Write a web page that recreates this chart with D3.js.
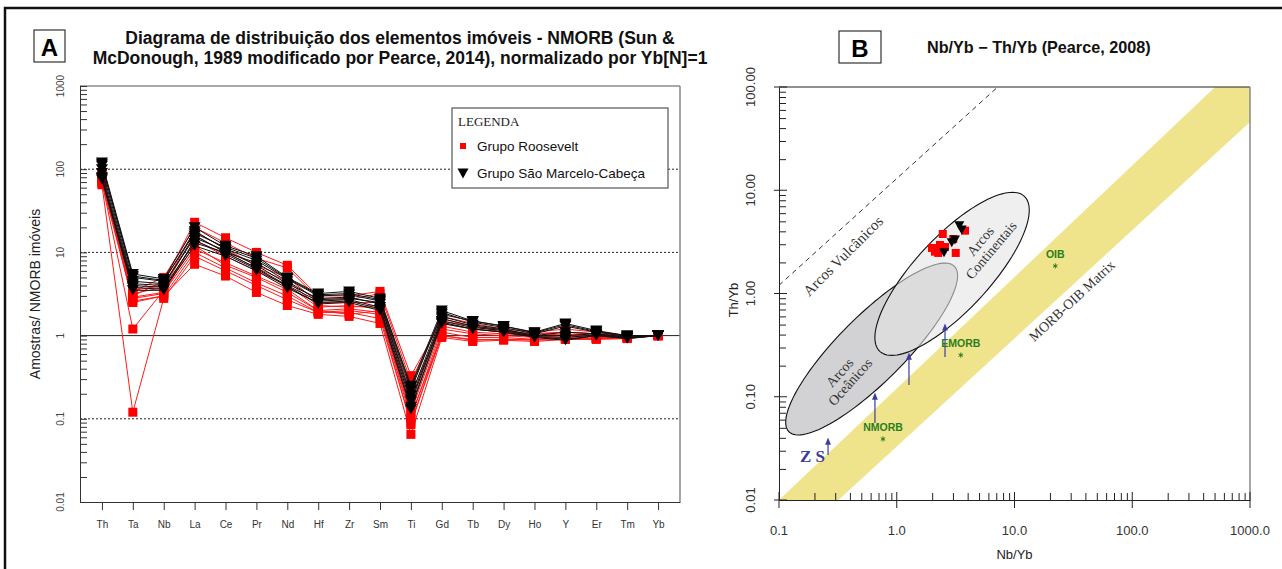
<!DOCTYPE html>
<html><head><meta charset="utf-8">
<script src="https://cdn.jsdelivr.net/npm/d3@7"></script>
<style>body{margin:0;background:#fff}svg{display:block}</style>
</head><body>
<svg id="c" width="1282" height="569"></svg>
<script>
// ---------- DATA: Panel A (spider diagram) ----------
const elements = ["Th","Ta","Nb","La","Ce","Pr","Nd","Hf","Zr","Sm","Ti","Gd","Tb","Dy","Ho","Y","Er","Tm","Yb"];
const roosevelt = [
  [90,3.0,4.5,23,15,10,7,3.0,3.0,3.4,0.33,1.5,1.3,1.15,1.05,1.1,1.05,1.0,1.0],
  [80,2.5,3.0,7.2,5.2,3.3,2.3,1.8,1.7,1.4,0.065,0.95,0.85,0.88,0.85,0.9,0.9,0.92,1.0],
  [65,0.12,2.8,9,6,4,2.7,1.9,1.9,1.6,0.09,1.0,0.9,0.9,0.9,0.95,0.92,0.95,1.0],
  [70,1.2,3.5,12,7,5,3.3,2.0,2.1,1.9,0.1,1.2,1.05,1.0,0.95,1.0,0.95,0.95,1.0],
  [75,2.8,3.2,14,9,6,4,2.2,2.3,2.1,0.12,1.3,1.1,1.05,1.0,1.0,1.0,0.97,1.0],
  [85,3.5,4.0,18,11,7,5,2.5,2.5,2.5,0.2,1.4,1.2,1.1,1.0,1.05,1.0,0.98,1.0],
  [68,2.6,3.0,10,6.5,4.3,3.0,1.9,2.0,1.8,0.085,1.1,0.95,0.95,0.9,0.92,0.93,0.95,1.0],
  [78,3.2,3.8,16,10,6.5,4.5,2.3,2.2,2.3,0.15,1.6,1.3,1.1,1.05,1.1,1.05,1.0,1.0],
  [72,2.9,3.3,11,7.5,5.2,3.6,2.0,1.8,2.0,0.11,1.0,0.88,0.9,0.88,0.9,0.92,0.93,1.0],
  [88,3.4,5.0,20,13,8.5,6.5,2.8,2.7,3.2,0.28,1.7,1.4,1.2,1.1,1.2,1.1,1.0,1.0]
];
const saoMarcelo = [
  [120,5.5,4.8,20,12,9,5,3.2,3.4,2.8,0.25,2.0,1.5,1.3,1.1,1.4,1.15,1.0,1.0],
  [110,5.0,4.5,18,11,8,4.8,3.0,3.1,2.6,0.22,1.9,1.45,1.25,1.05,1.3,1.1,0.98,1.0],
  [100,4.5,4.2,15,10.5,7,4.2,2.8,2.9,2.4,0.19,1.7,1.35,1.2,1.0,1.0,1.05,0.95,1.0],
  [80,4.0,3.8,13,10,6.5,4.0,2.6,2.7,2.2,0.16,1.5,1.25,1.15,0.98,0.9,1.0,0.93,1.0],
  [78,3.8,3.6,12,9,6,3.7,2.5,2.6,2.1,0.14,1.4,1.2,1.1,0.95,0.88,1.0,0.92,1.0],
  [75,3.5,3.5,14,9.5,6.3,3.9,2.4,2.5,2.0,0.13,1.45,1.2,1.1,0.97,0.95,1.02,0.94,1.0],
  [115,5.2,4.6,17,11.5,8.5,4.9,3.1,3.2,2.7,0.24,1.8,1.5,1.3,1.08,1.35,1.12,1.0,1.0],
  [90,4.2,4.0,16,10,7.5,4.5,2.7,2.8,2.5,0.17,1.6,1.3,1.18,1.0,1.1,1.05,0.96,1.0]
];
const yTicksA = [1000,100,10,1,0.1,0.01];
const yTickLabelsA = ["1000","100","10","1","0.1","0.01"];
const gridA = [100,10,1,0.1];
const legendTitle = "LEGENDA";
const legendLabels = ["Grupo Roosevelt","Grupo São Marcelo-Cabeça"];
const titleA = ["Diagrama de distribuição dos elementos imóveis - NMORB (Sun &",
                "McDonough, 1989 modificado por Pearce, 2014), normalizado por Yb[N]=1"];
const yLabelA = "Amostras/ NMORB imóveis";

// ---------- DATA: Panel B (Nb/Yb - Th/Yb) ----------
const bRooseveltNb = [2.46,3.02,2.33,2.11,2.25,3.17,3.80,1.99,2.57];
const bRooseveltTh = [3.77,3.37,2.95,2.54,2.47,2.47,4.06,2.76,2.82];
const bSaoNb = [3.40,3.56,2.93,3.12,2.52];
const bSaoTh = [4.54,4.12,3.10,3.30,2.48];
const refNames = ["NMORB","EMORB","OIB"];
const refNb = [0.764,3.5,22.2];
const refTh = [0.039,0.253,1.85];
const xTicksB = [0.1,1,10,100,1000];
const xTickLabelsB = ["0.1","1.0","10.0","100.0","1000.0"];
const yTicksB = [0.01,0.1,1,10,100];
const yTickLabelsB = ["0.01","0.10","1.00","10.00","100.00"];
const arrowNb = [0.261,0.653,1.27,2.57];
const arrowFromTh = [0.0273,0.0557,0.130,0.243];
const arrowToTh = [0.0407,0.111,0.271,0.518];
const bandUpperNb = [0.1,1000], bandUpperTh = [0.01,209];
const bandLowerNb = [0.32,1000], bandLowerTh = [0.01,45.7];
const volcanicNb = [0.1,7.2], volcanicTh = [1.2,100];
const ellipseNames = ["Arcos Oceânicos","Arcos Continentais"];
const ellipseNb = [0.612,2.95];
const ellipseTh = [0.29,1.55];
const ellipseLabelLines = [["Arcos","Oceânicos"],["Arcos","Continentais"]];
const ellipseLabelNb = [0.362,5.69];
const ellipseLabelTh = [0.155,2.92];
const annoTexts = ["Arcos Vulcânicos","MORB-OIB Matrix"];
const annoNb = [0.35,30.8];
const annoTh = [2.31,0.846];
const titleB = "Nb/Yb − Th/Yb (Pearce, 2008)";
const xLabelB = "Nb/Yb", yLabelB = "Th/Yb";

// ---------- DRAW ----------
const svg = d3.select("#c");
const SANS = "'Liberation Sans', Arial, sans-serif";
const SERIF = "'Liberation Serif', 'Times New Roman', serif";
svg.append("rect").attr("width",1282).attr("height",569).attr("fill","#fff");
svg.append("rect").attr("x",5).attr("y",8).attr("width",1290).attr("height",580)
  .attr("fill","none").attr("stroke","#111").attr("stroke-width",2.5);

// ===== Panel A =====
const A = {l:80, r:680, t:86, b:502};
const xA = d3.scalePoint().domain(elements).range([A.l,A.r]).padding(0.71);
const yA = d3.scaleLog().domain([0.01,1000]).range([A.b,A.t]);

svg.append("rect").attr("x",34).attr("y",30).attr("width",31).attr("height",32)
  .attr("fill","#fff").attr("stroke","#333").attr("stroke-width",1.2);
svg.append("text").attr("x",49.5).attr("y",47).attr("text-anchor","middle").attr("dominant-baseline","central")
  .attr("font-family",SANS).attr("font-weight","bold").attr("font-size",24).text("A");
svg.selectAll("text.tA").data(titleA).join("text").attr("class","tA")
  .attr("x",400).attr("y",(d,i)=>44+i*20).attr("text-anchor","middle")
  .attr("font-family",SANS).attr("font-weight","bold").attr("font-size",17.5).attr("fill","#111").text(d=>d);

// grid
svg.selectAll("line.gA").data(gridA).join("line").attr("class","gA")
  .attr("x1",A.l).attr("x2",A.r).attr("y1",d=>yA(d)).attr("y2",d=>yA(d))
  .attr("stroke","#222").attr("stroke-width",1)
  .attr("stroke-dasharray",d=>d===1?null:"2,2");

svg.append("line").attr("x1",A.l).attr("x2",A.r).attr("y1",A.t).attr("y2",A.t).attr("stroke","#555").attr("stroke-width",1.2);
svg.append("line").attr("x1",A.r).attr("x2",A.r).attr("y1",A.t).attr("y2",A.b).attr("stroke","#888").attr("stroke-width",1.5);

const axA = svg.append("g").attr("transform",`translate(${A.l},0)`)
  .call(d3.axisLeft(yA).tickValues(yA.ticks()).tickSize(-7).tickSizeOuter(0).tickFormat(""));
axA.selectAll("path,line").attr("stroke","#333");
svg.selectAll("text.ylA").data(yTicksA).join("text").attr("class","ylA")
  .attr("transform",(d)=>`translate(${A.l-20},${yA(d)}) rotate(-90)`)
  .attr("text-anchor","middle").attr("dominant-baseline","central")
  .attr("font-family",SANS).attr("font-size",10).attr("fill","#444")
  .text((d,i)=>yTickLabelsA[i]);
const axAx = svg.append("g").attr("transform",`translate(0,${A.b})`)
  .call(d3.axisBottom(xA).tickSize(8).tickSizeOuter(0).tickPadding(11));
axAx.selectAll("path,line").attr("stroke","#333");
axAx.selectAll("text").attr("font-family",SANS).attr("font-size",10).attr("fill","#333");
svg.append("text").attr("transform",`translate(35,${(A.t+A.b)/2}) rotate(-90)`)
  .attr("text-anchor","middle").attr("dominant-baseline","central")
  .attr("font-family",SANS).attr("font-size",14).attr("fill","#222").text(yLabelA);

const lineA = d3.line().x((d,i)=>xA(elements[i])).y(d=>yA(d));
const triPath = (w,h)=>`M${-w/2},${-h/2}L${w/2},${-h/2}L0,${h/2}Z`;
const gR = svg.append("g");
gR.selectAll("path.lr").data(roosevelt).join("path").attr("class","lr")
  .attr("d",lineA).attr("fill","none").attr("stroke","#ff1a1a").attr("stroke-width",1);
gR.selectAll("rect.mr").data(roosevelt.flatMap(s=>s.map((v,i)=>({v,i})))).join("rect").attr("class","mr")
  .attr("x",d=>xA(elements[d.i])-4.5).attr("y",d=>yA(d.v)-4.5).attr("width",9).attr("height",9).attr("fill","#ff0000");
const gB = svg.append("g");
gB.selectAll("path.lb").data(saoMarcelo).join("path").attr("class","lb")
  .attr("d",lineA).attr("fill","none").attr("stroke","#111").attr("stroke-width",1);
gB.selectAll("path.mb").data(saoMarcelo.flatMap(s=>s.map((v,i)=>({v,i})))).join("path").attr("class","mb")
  .attr("transform",d=>`translate(${xA(elements[d.i])},${yA(d.v)})`).attr("d",triPath(12,10)).attr("fill","#000");

// legend
svg.append("rect").attr("x",452).attr("y",108).attr("width",216).attr("height",80)
  .attr("fill","#fff").attr("stroke","#555").attr("stroke-width",1.2);
svg.append("text").attr("x",458).attr("y",126).attr("font-family",SERIF).attr("font-size",13).attr("fill","#222").text(legendTitle);
svg.append("rect").attr("x",460).attr("y",143).attr("width",6).attr("height",6).attr("fill","#ff0000");
svg.append("path").attr("transform","translate(463,173.5)").attr("d",triPath(11,10)).attr("fill","#000");
svg.selectAll("text.lg").data(legendLabels).join("text").attr("class","lg")
  .attr("x",477).attr("y",(d,i)=>146+i*27).attr("dominant-baseline","central")
  .attr("font-family",SANS).attr("font-size",13.5).attr("fill","#111").text(d=>d);

// ===== Panel B =====
const B = {l:779, r:1250, t:87, b:500};
const xB = d3.scaleLog().domain([0.1,1000]).range([B.l,B.r]);
const yB = d3.scaleLog().domain([0.01,100]).range([B.b,B.t]);

svg.append("rect").attr("x",839).attr("y",31).attr("width",42).attr("height",32)
  .attr("fill","#fff").attr("stroke","#333").attr("stroke-width",1.2);
svg.append("text").attr("x",860).attr("y",48).attr("text-anchor","middle").attr("dominant-baseline","central")
  .attr("font-family",SANS).attr("font-weight","bold").attr("font-size",24).text("B");
svg.append("text").attr("x",927).attr("y",53).attr("font-family",SANS).attr("font-weight","bold")
  .attr("font-size",16.2).attr("fill","#111").text(titleB);

svg.append("defs").call(df=>{
  df.append("clipPath").attr("id","clipB").append("rect").attr("x",B.l).attr("y",B.t).attr("width",B.r-B.l).attr("height",B.b-B.t);
  df.append("marker").attr("id","arr").attr("viewBox","0 0 10 10").attr("refX",5).attr("refY",5)
    .attr("markerWidth",6).attr("markerHeight",7).attr("orient","auto")
    .append("path").attr("d","M0,1L10,5L0,9Z").attr("fill","#3c3c9c");
});
const gP = svg.append("g").attr("clip-path","url(#clipB)");
const bandPts = [[bandUpperNb[0],bandUpperTh[0]],[bandUpperNb[1],bandUpperTh[1]],[bandLowerNb[1],bandLowerTh[1]],[bandLowerNb[0],bandLowerTh[0]]];
gP.append("path").attr("d","M"+bandPts.map(p=>[xB(p[0]),yB(p[1])].join(",")).join("L")+"Z")
  .attr("fill","#efe48c");
gP.append("line").attr("x1",xB(volcanicNb[0])).attr("y1",yB(volcanicTh[0]))
  .attr("x2",xB(volcanicNb[1])).attr("y2",yB(volcanicTh[1]))
  .attr("stroke","#333").attr("stroke-width",1).attr("stroke-dasharray","5,4");

const ellSize = [{rx:117,ry:33,ang:-45},{rx:106,ry:37,ang:-47}];
const ellStyle = [{fill:"#d2d2d4",op:1},{fill:"#e3e3e3",op:0.58}];
function ellPath(cx,cy,s){
  const a=s.ang*Math.PI/180, pts=[];
  for(let k=0;k<=120;k++){const t=k/120*2*Math.PI;
    pts.push([cx+s.rx*Math.cos(t)*Math.cos(a)-s.ry*Math.sin(t)*Math.sin(a),
              cy+s.rx*Math.cos(t)*Math.sin(a)+s.ry*Math.sin(t)*Math.cos(a)]);}
  return d3.line()(pts)+"Z";
}
ellipseNames.forEach((n,i)=>{
  gP.append("path").attr("d",ellPath(xB(ellipseNb[i]),yB(ellipseTh[i]),ellSize[i]))
    .attr("fill",ellStyle[i].fill).attr("fill-opacity",ellStyle[i].op)
    .attr("stroke","#111").attr("stroke-width",1.1);
});
const ellRot = [-48,-50];
ellipseLabelLines.forEach((lines,i)=>{
  const t = gP.append("text").attr("transform",`translate(${xB(ellipseLabelNb[i])},${yB(ellipseLabelTh[i])}) rotate(${ellRot[i]})`)
    .attr("text-anchor","middle").attr("font-family",SERIF).attr("font-size",14).attr("fill","#333");
  lines.forEach((l,j)=>t.append("tspan").attr("x",0).attr("y",(j-0.5)*14).attr("dy","0.35em").text(l));
});
const annoRot = [-45,-43];
const annoSize = [15,14];
gP.selectAll("text.anno").data(annoTexts).join("text").attr("class","anno")
  .attr("transform",(d,i)=>`translate(${xB(annoNb[i])},${yB(annoTh[i])}) rotate(${annoRot[i]})`)
  .attr("text-anchor","middle").attr("dominant-baseline","central")
  .attr("font-family",SERIF).attr("font-size",(d,i)=>annoSize[i]).attr("fill","#333").text(d=>d);

gP.selectAll("line.arr").data(arrowNb).join("line").attr("class","arr")
  .attr("x1",d=>xB(d)).attr("x2",d=>xB(d))
  .attr("y1",(d,i)=>yB(arrowFromTh[i])).attr("y2",(d,i)=>yB(arrowToTh[i])+4)
  .attr("stroke","#3c3c9c").attr("stroke-width",1.2).attr("marker-end","url(#arr)");
gP.append("text").attr("x",xB(arrowNb[0])-3).attr("y",yB(arrowFromTh[0])+7).attr("text-anchor","end")
  .attr("font-family",SERIF).attr("font-weight","bold").attr("font-size",17).attr("fill","#3c3c9c").text("Z S");

gP.selectAll("path.ref").data(refNames).join("path").attr("class","ref")
  .attr("transform",(d,i)=>`translate(${xB(refNb[i])},${yB(refTh[i])})`)
  .attr("d",d3.symbol(d3.symbolAsterisk,18)()).attr("fill","none").attr("stroke","#2b7d1b").attr("stroke-width",1);
gP.selectAll("text.ref").data(refNames).join("text").attr("class","ref")
  .attr("x",(d,i)=>xB(refNb[i])).attr("y",(d,i)=>yB(refTh[i])-12).attr("text-anchor","middle").attr("dominant-baseline","central")
  .attr("font-family",SANS).attr("font-weight","bold").attr("font-size",10.5).attr("fill","#2b7d1b").text(d=>d);

gP.selectAll("rect.pr").data(bRooseveltNb).join("rect").attr("class","pr")
  .attr("x",d=>xB(d)-4).attr("y",(d,i)=>yB(bRooseveltTh[i])-4).attr("width",8).attr("height",8).attr("fill","#ff0000");
gP.selectAll("path.pb").data(bSaoNb).join("path").attr("class","pb")
  .attr("transform",(d,i)=>`translate(${xB(d)},${yB(bSaoTh[i])})`).attr("d",triPath(10,9)).attr("fill","#000");

svg.append("line").attr("x1",B.l).attr("x2",B.r).attr("y1",B.t).attr("y2",B.t).attr("stroke","#222").attr("stroke-width",1.2);
svg.append("line").attr("x1",B.r).attr("x2",B.r).attr("y1",B.t).attr("y2",B.b).attr("stroke","#888").attr("stroke-width",1.5);

const minorX = xB.ticks().filter(v=>!xTicksB.some(t=>Math.abs(t-v)<1e-9));
const minorY = yB.ticks().filter(v=>!yTicksB.some(t=>Math.abs(t-v)<1e-9));
const axBx = svg.append("g").attr("transform",`translate(0,${B.b})`)
  .call(d3.axisBottom(xB).tickValues(minorX).tickSize(-7).tickSizeOuter(0).tickFormat(""));
axBx.selectAll("path,line").attr("stroke","#222");
svg.selectAll("line.mxB").data(xTicksB).join("line").attr("class","mxB")
  .attr("x1",d=>xB(d)).attr("x2",d=>xB(d)).attr("y1",B.b-8).attr("y2",B.b+8).attr("stroke","#222");
svg.selectAll("text.xlB").data(xTicksB).join("text").attr("class","xlB")
  .attr("x",d=>xB(d)).attr("y",B.b+35).attr("text-anchor","middle")
  .attr("font-family",SANS).attr("font-size",13).attr("fill","#333").text((d,i)=>xTickLabelsB[i]);
const axBy = svg.append("g").attr("transform",`translate(${B.l},0)`)
  .call(d3.axisLeft(yB).tickValues(minorY).tickSize(-7).tickSizeOuter(0).tickFormat(""));
axBy.selectAll("path,line").attr("stroke","#222");
svg.selectAll("line.myB").data(yTicksB).join("line").attr("class","myB")
  .attr("x1",B.l-5).attr("x2",B.l+8).attr("y1",d=>yB(d)).attr("y2",d=>yB(d)).attr("stroke","#222");
svg.selectAll("text.ylB").data(yTicksB).join("text").attr("class","ylB")
  .attr("transform",d=>`translate(${B.l-29},${yB(d)}) rotate(-90)`)
  .attr("text-anchor","middle").attr("dominant-baseline","central")
  .attr("font-family",SANS).attr("font-size",13).attr("fill","#333").text((d,i)=>yTickLabelsB[i]);
svg.append("text").attr("x",(B.l+B.r)/2).attr("y",554).attr("text-anchor","middle").attr("dominant-baseline","central")
  .attr("font-family",SANS).attr("font-size",13).attr("fill","#222").text(xLabelB);
svg.append("text").attr("transform",`translate(733,300) rotate(-90)`)
  .attr("text-anchor","middle").attr("dominant-baseline","central")
  .attr("font-family",SANS).attr("font-size",13).attr("fill","#222").text(yLabelB);
</script>
</body></html>
